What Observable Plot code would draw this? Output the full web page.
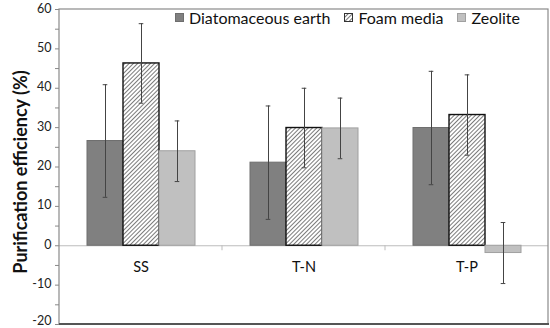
<!DOCTYPE html>
<html>
<head>
<meta charset="utf-8">
<script src="https://cdn.jsdelivr.net/npm/d3@7"></script>
<script src="https://cdn.jsdelivr.net/npm/@observablehq/plot@0.6"></script>
<style>
  html, body { margin: 0; padding: 0; background: #fff; }
  #wrap { position: relative; width: 550px; height: 328px; font-family: Lato, "Open Sans", sans-serif; }
  #legend { position: absolute; top: 8px; left: 175px; display: flex; gap: 14px; font-size: 16px; color: #111; }
  #legend span.item { display: flex; align-items: center; }
  #legend svg { margin-right: 5px; }
  #ylabel { position: absolute; left: 20px; top: 172px; transform: translate(-50%, -50%) rotate(-90deg); white-space: nowrap; font-weight: bold; font-size: 18px; color: #111; }
</style>
</head>
<body>
<svg width="0" height="0" style="position:absolute">
  <defs>
    <pattern id="hatch" patternUnits="userSpaceOnUse" width="3" height="3" patternTransform="rotate(45)">
      <rect width="3" height="3" fill="#fff"></rect>
      <line x1="0" y1="0" x2="0" y2="3" stroke="#333" stroke-width="1.3"></line>
    </pattern>
  </defs>
</svg>
<div id="wrap">
  <div id="chart"></div>
  <div id="legend"></div>
  <div id="ylabel">Purification efficiency (%)</div>
</div>
<script>
const categories = ["SS", "T-N", "T-P"];
const media = ["Diatomaceous earth", "Foam media", "Zeolite"];
const diatomaceous = [26.6, 21.1, 29.9];
const foamMedia = [46.3, 29.9, 33.2];
const zeolite = [24.0, 29.8, -1.85];
const diatomaceousErr = [14.3, 14.4, 14.4];
const foamMediaErr = [10.1, 10.1, 10.2];
const zeoliteErr = [7.7, 7.7, 7.75];
const yTicks = [-20, -10, 0, 10, 20, 30, 40, 50, 60];
const yMinorTicks = [-15, -5, 5, 15, 25, 35, 45, 55];

const fills = {"Diatomaceous earth": "#808080", "Foam media": "url(#hatch)", "Zeolite": "#c0c0c0"};
const strokes = {"Diatomaceous earth": "#6e6e6e", "Foam media": "#111", "Zeolite": "#a0a0a0"};

const seriesValues = [diatomaceous, foamMedia, zeolite];
const seriesErr = [diatomaceousErr, foamMediaErr, zeoliteErr];
const rows = [];
categories.forEach((c, i) => {
  media.forEach((m, j) => {
    const v = seriesValues[j][i], e = seriesErr[j][i];
    rows.push({category: c, medium: m, value: v, lo: v - e, hi: v + e});
  });
});

const labelStyle = {anchor: "left", tickSize: 0, tickPadding: 8, tickFormat: d => String(d), fontSize: 12.5, fill: "#222"};

const chart = Plot.plot({
  width: 550,
  height: 328,
  marginLeft: 58,
  marginRight: 1,
  marginTop: 9,
  marginBottom: 4,
  style: {fontFamily: "Lato, 'Open Sans', sans-serif", fontSize: "12px", color: "#222", background: "#fff", overflow: "visible"},
  fx: {domain: categories, padding: 0, axis: null},
  x: {domain: media, paddingInner: 0, paddingOuter: 0.75, axis: null},
  y: {domain: [-20, 60], axis: null},
  marks: [
    Plot.ruleY([0], {stroke: "#bdbdbd", strokeWidth: 1.2}),
    Plot.barY(rows, {fx: "category", x: "medium", y: "value",
      fill: d => fills[d.medium], stroke: d => strokes[d.medium], strokeWidth: d => d.medium === "Foam media" ? 1.4 : 1}),
    Plot.ruleX(rows, {fx: "category", x: "medium", y1: "lo", y2: "hi", stroke: "#444", strokeWidth: 1}),
    Plot.tickY(rows, {fx: "category", x: "medium", y: "lo", stroke: "#444", insetLeft: 15.7, insetRight: 15.7}),
    Plot.tickY(rows, {fx: "category", x: "medium", y: "hi", stroke: "#444", insetLeft: 15.7, insetRight: 15.7}),
    Plot.text(categories, {fx: d => d, y: () => 0, text: d => d, dy: 22, fontSize: 14.5, fill: "#111"}),
    Plot.axisY(yTicks, {anchor: "left", tickSize: 4, text: null, stroke: "#888"}),
    Plot.axisY(yMinorTicks, {anchor: "left", tickSize: 4, text: null, stroke: "#888"}),
    Plot.axisY(yTicks.slice(1), {...labelStyle, dy: -1}),
    Plot.axisY(yTicks.slice(0, 1), {...labelStyle, dy: -3.5})
  ]
});
document.getElementById("chart").appendChild(chart);

// frame and category boundary ticks using the plot's scales
const svg = d3.select(chart);
const fx = chart.scale("fx"), y = chart.scale("y");
const xLeft = fx.apply(categories[0]);
const xRight = fx.apply(categories[categories.length - 1]) + fx.bandwidth;
const yTop = y.apply(60), yBot = y.apply(-20), y0 = y.apply(0);
svg.append("rect").attr("x", xLeft).attr("y", yTop).attr("width", xRight - xLeft).attr("height", yBot - yTop)
  .attr("fill", "none").attr("stroke", "#8a8a8a").attr("stroke-width", 1.2);
svg.append("line").attr("x1", xLeft).attr("x2", xRight + 1).attr("y1", yBot).attr("y2", yBot).attr("stroke", "#555").attr("stroke-width", 2);
categories.slice(1).forEach(c => {
  const xb = fx.apply(c);
  svg.append("line").attr("x1", xb).attr("x2", xb).attr("y1", y0).attr("y2", y0 + 5).attr("stroke", "#bdbdbd").attr("stroke-width", 1);
});

// legend
const legend = d3.select("#legend");
media.forEach(m => {
  const item = legend.append("span").attr("class", "item");
  const s = item.append("svg").attr("width", 9).attr("height", 9);
  s.append("rect").attr("x", 0.5).attr("y", 0.5).attr("width", 8).attr("height", 8)
    .attr("fill", fills[m]).attr("stroke", m === "Foam media" ? "#333" : strokes[m]);
  item.append("span").text(m);
});
</script>
</body>
</html>
